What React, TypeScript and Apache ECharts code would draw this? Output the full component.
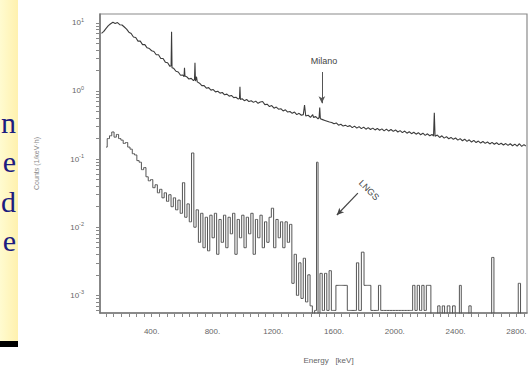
import React, { useEffect, useRef } from 'react';
import * as echarts from 'echarts';

// ---- data ----
const xLabelValues = [400, 800, 1200, 1600, 2000, 2400, 2800];
const yLabelValues = [0.001, 0.01, 0.1, 1, 10];
const yMinorMultipliers = [2, 3, 4, 5, 6, 7, 8, 9];
const sideText = ['n', 'e', 'd', 'e'];

// Milano spectrum [energy keV, counts]
const milano: [number, number][] = [
  [70, 7.0], [85, 7.5], [100, 8.3], [115, 9.1], [130, 9.7], [145, 10.2], [160, 9.8], [175, 10.1],
  [190, 9.4], [205, 9.3], [220, 8.7], [235, 8.1], [250, 7.3], [265, 7.0], [280, 6.2], [295, 6.1],
  [310, 5.4], [325, 5.4], [340, 4.8], [355, 4.8], [370, 4.3], [385, 4.2], [400, 3.9], [415, 3.8],
  [430, 3.4], [445, 3.4], [460, 3.0], [475, 3.0], [490, 2.65], [505, 2.6], [520, 2.3], [528, 2.35],
  [531, 7.4], [534, 2.2], [545, 2.15], [560, 1.95], [575, 1.9], [590, 1.7], [605, 1.72], [613, 1.62],
  [616, 2.2], [619, 1.66], [630, 1.62], [645, 1.5], [660, 1.53], [675, 1.42], [682, 1.48], [685, 2.6],
  [688, 1.4], [695, 1.62], [700, 1.36], [715, 1.3], [730, 1.2], [745, 1.2], [760, 1.1], [775, 1.12],
  [790, 1.03], [805, 1.05], [820, 0.97], [835, 0.99], [850, 0.93], [865, 0.95], [880, 0.88], [895, 0.9],
  [910, 0.84], [925, 0.86], [940, 0.8], [955, 0.81], [970, 0.76], [978, 0.78], [981, 1.15], [984, 0.75],
  [995, 0.77], [1010, 0.72], [1025, 0.75], [1040, 0.7], [1055, 0.72], [1070, 0.68], [1085, 0.71],
  [1100, 0.66], [1115, 0.69], [1130, 0.7], [1145, 0.63], [1160, 0.64], [1175, 0.59], [1190, 0.61],
  [1205, 0.56], [1220, 0.58], [1235, 0.54], [1250, 0.55], [1265, 0.51], [1280, 0.53], [1295, 0.49],
  [1310, 0.5], [1325, 0.47], [1340, 0.49], [1355, 0.45], [1370, 0.47], [1385, 0.44], [1398, 0.45],
  [1406, 0.62], [1414, 0.43], [1430, 0.44], [1445, 0.41], [1460, 0.45], [1465, 0.41], [1480, 0.42],
  [1495, 0.39], [1502, 0.41], [1506, 0.57], [1510, 0.39], [1525, 0.38], [1540, 0.37], [1555, 0.36],
  [1570, 0.35], [1585, 0.345], [1600, 0.33], [1615, 0.34], [1630, 0.315], [1645, 0.325], [1660, 0.305],
  [1675, 0.315], [1690, 0.3], [1705, 0.31], [1720, 0.29], [1735, 0.305], [1750, 0.285], [1765, 0.3],
  [1780, 0.28], [1795, 0.295], [1810, 0.275], [1825, 0.29], [1840, 0.272], [1855, 0.285], [1870, 0.268],
  [1885, 0.282], [1900, 0.265], [1915, 0.278], [1930, 0.26], [1945, 0.275], [1960, 0.258], [1975, 0.272],
  [1990, 0.255], [2005, 0.268], [2020, 0.25], [2035, 0.262], [2050, 0.245], [2065, 0.258], [2080, 0.24],
  [2095, 0.252], [2110, 0.236], [2125, 0.248], [2140, 0.232], [2155, 0.244], [2170, 0.228], [2185, 0.24],
  [2200, 0.223], [2215, 0.235], [2230, 0.22], [2245, 0.23], [2255, 0.218], [2260, 0.48], [2265, 0.216],
  [2280, 0.225], [2295, 0.208], [2310, 0.22], [2325, 0.203], [2340, 0.214], [2355, 0.199], [2370, 0.208],
  [2385, 0.195], [2400, 0.204], [2415, 0.19], [2430, 0.2], [2445, 0.186], [2460, 0.196], [2475, 0.182],
  [2490, 0.192], [2505, 0.178], [2520, 0.188], [2535, 0.175], [2550, 0.184], [2565, 0.172], [2580, 0.181],
  [2595, 0.17], [2610, 0.178], [2625, 0.167], [2640, 0.176], [2655, 0.165], [2670, 0.174], [2685, 0.163],
  [2700, 0.171], [2715, 0.161], [2730, 0.169], [2745, 0.159], [2760, 0.168], [2775, 0.157], [2790, 0.166],
  [2805, 0.155], [2820, 0.168], [2835, 0.154], [2850, 0.163], [2862, 0.156],
];

// LNGS spectrum [energy keV, counts]; 0.0001 = empty bin (below the axis)
const lngs: [number, number][] = [
  [100, 0.15], [115, 0.2], [130, 0.22], [145, 0.25], [160, 0.21], [175, 0.23], [190, 0.2], [205, 0.19],
  [220, 0.17], [235, 0.175], [250, 0.15], [265, 0.14], [280, 0.12], [295, 0.115], [310, 0.095], [325, 0.09],
  [340, 0.07], [355, 0.075], [370, 0.055], [385, 0.048], [400, 0.05], [415, 0.038], [430, 0.042], [445, 0.032],
  [460, 0.036], [475, 0.027], [490, 0.032], [505, 0.024], [520, 0.03], [535, 0.02], [550, 0.027], [565, 0.018],
  [580, 0.025], [595, 0.016], [610, 0.045], [625, 0.014], [640, 0.022], [655, 0.012], [670, 0.123], [685, 0.01],
  [700, 0.018], [715, 0.006], [730, 0.016], [745, 0.005], [760, 0.014], [775, 0.0045], [790, 0.015], [805, 0.007],
  [820, 0.016], [835, 0.004], [850, 0.013], [865, 0.006], [880, 0.015], [895, 0.005], [910, 0.014], [925, 0.008],
  [940, 0.016], [955, 0.004], [970, 0.013], [985, 0.007], [1000, 0.015], [1015, 0.005], [1030, 0.014],
  [1045, 0.008], [1060, 0.016], [1075, 0.004], [1090, 0.013], [1105, 0.007], [1120, 0.015], [1135, 0.005],
  [1150, 0.012], [1165, 0.006], [1180, 0.014], [1195, 0.019], [1210, 0.005], [1225, 0.013], [1240, 0.007],
  [1255, 0.012], [1270, 0.005], [1285, 0.012], [1300, 0.006], [1315, 0.011], [1330, 0.0015], [1345, 0.004],
  [1360, 0.001], [1375, 0.003], [1390, 0.0009], [1405, 0.0035], [1420, 0.0008], [1435, 0.002], [1450, 0.0007],
  [1465, 0.0001], [1480, 0.0006], [1490, 0.09], [1500, 0.0001], [1515, 0.0021], [1530, 0.0006], [1545, 0.0021],
  [1560, 0.0006], [1575, 0.0023], [1590, 0.0006], [1605, 0.0006], [1620, 0.0014], [1635, 0.0014], [1650, 0.0014],
  [1665, 0.0014], [1680, 0.0014], [1695, 0.0006], [1710, 0.0006], [1725, 0.0006], [1740, 0.0006], [1755, 0.003],
  [1770, 0.0006], [1790, 0.0043], [1805, 0.0014], [1820, 0.0014], [1835, 0.0014], [1850, 0.0006], [1870, 0.0006],
  [1885, 0.0006], [1900, 0.0014], [1915, 0.0006], [1935, 0.0006], [1955, 0.0006], [1975, 0.0006], [1995, 0.0006],
  [2015, 0.0006], [2035, 0.0006], [2055, 0.0006], [2075, 0.0006], [2095, 0.0006], [2110, 0.0006], [2125, 0.0014],
  [2140, 0.0006], [2155, 0.0014], [2170, 0.0006], [2185, 0.0014], [2200, 0.0006], [2215, 0.0014], [2230, 0.0014],
  [2245, 0.0001], [2275, 0.0001], [2290, 0.0007], [2305, 0.0001], [2320, 0.0007], [2335, 0.0001], [2355, 0.0007],
  [2370, 0.0001], [2390, 0.0007], [2405, 0.0001], [2420, 0.0001], [2430, 0.0014], [2445, 0.0001], [2480, 0.0001],
  [2495, 0.0007], [2510, 0.0001], [2630, 0.0001], [2645, 0.0036], [2660, 0.0001], [2805, 0.0001], [2820, 0.0015],
  [2835, 0.0001], [2870, 0.0001],
];

export default function App() {
  const ref = useRef<HTMLDivElement>(null);
  useEffect(() => {
    document.body.style.margin = '0';
    if (!ref.current) return;
    const chart = echarts.init(ref.current, undefined, { renderer: 'svg' });

    const xTicks: number[] = [];
    for (let v = 100; v <= 2850; v += 50) xTicks.push(v);
    const yTicks: number[] = [];
    yLabelValues.forEach((d) => {
      yTicks.push(d);
      yMinorMultipliers.forEach((m) => {
        const t = d * m;
        if (t <= 13.5) yTicks.push(t);
      });
    });
    yTicks.unshift(0.0006, 0.0007, 0.0008, 0.0009);

    const axisFont = 'Liberation Sans';

    chart.setOption({
      animation: false,
      backgroundColor: '#ffffff',
      grid: {
        left: 100, right: 5, top: 14, bottom: 66,
        show: true, borderColor: '#8a8a8a', borderWidth: 1.2,
      },
      xAxis: {
        type: 'value', min: 60, max: 2870,
        name: 'Energy   [keV]', nameLocation: 'middle', nameGap: 43,
        nameTextStyle: { fontSize: 8, color: '#666', fontFamily: axisFont, padding: [0, 0, 0, 30] },
        axisLine: { show: true, lineStyle: { color: '#777', width: 1.5 } },
        axisTick: { show: true, length: 4, customValues: xTicks, lineStyle: { color: '#888', width: 1 } },
        axisLabel: {
          customValues: xLabelValues, margin: 14, fontSize: 8, color: '#666', fontFamily: axisFont,
          formatter: (v: number) => v + '.',
        },
        splitLine: { show: false },
      },
      yAxis: {
        type: 'log', logBase: 10, min: 0.00055, max: 13.5,
        name: 'Counts (1/keV·h)', nameLocation: 'middle', nameGap: 60,
        nameTextStyle: { fontSize: 7, color: '#888', fontFamily: axisFont, padding: [0, 0, 0, 0] },
        axisLine: { show: true, lineStyle: { color: '#777', width: 1.5 } },
        axisTick: { show: true, length: 4, customValues: yTicks, lineStyle: { color: '#888', width: 1 } },
        axisLabel: {
          customValues: yLabelValues, margin: 16, color: '#666', fontFamily: axisFont,
          formatter: (v: number) => `{b|10}{s|${Math.round(Math.log10(v))}}`,
          rich: {
            b: { fontSize: 8, color: '#666', fontFamily: axisFont },
            s: { fontSize: 5.5, color: '#666', fontFamily: axisFont, padding: [0, 0, 6, 0] },
          },
        },
        splitLine: { show: false },
        minorSplitLine: { show: false },
      },
      series: [
        {
          name: 'Milano', type: 'line', data: milano, showSymbol: false, silent: true,
          lineStyle: { color: '#3c3c3c', width: 1.1 },
          markLine: {
            silent: true, symbol: ['none', 'arrow'], symbolSize: [5, 7],
            lineStyle: { color: '#555', width: 1, type: 'solid' }, label: { show: false },
            data: [[{ coord: [1520, 1.9] }, { coord: [1520, 0.66] }]],
          },
          markPoint: {
            silent: true, symbol: 'rect', symbolSize: 1, itemStyle: { color: 'rgba(0,0,0,0)' },
            label: { show: true, position: 'inside', formatter: 'Milano', fontSize: 9, color: '#444', fontFamily: axisFont },
            data: [{ coord: [1534, 2.76] }],
          },
        },
        {
          name: 'LNGS', type: 'line', step: 'middle', data: lngs, showSymbol: false, silent: true,
          lineStyle: { color: '#555', width: 1 },
          markLine: {
            silent: true, symbol: ['none', 'arrow'], symbolSize: [5, 7],
            lineStyle: { color: '#444', width: 1.2, type: 'solid' }, label: { show: false },
            data: [[{ coord: [1757, 0.0316] }, { coord: [1619, 0.0151] }]],
          },
          markPoint: {
            silent: true, symbol: 'rect', symbolSize: 1, itemStyle: { color: 'rgba(0,0,0,0)' },
            label: { show: true, position: 'inside', formatter: 'LNGS', rotate: -45, fontSize: 9, color: '#444', fontFamily: axisFont },
            data: [{ coord: [1830, 0.035] }],
          },
        },
      ],
      graphic: [
        {
          type: 'rect', shape: { x: 0, y: 0, width: 18, height: 341 }, silent: true,
          style: {
            fill: new echarts.graphic.LinearGradient(0, 0, 1, 0, [
              { offset: 0, color: '#fffbd0' },
              { offset: 1, color: '#fff1ae' },
            ]),
          },
        },
        { type: 'rect', shape: { x: 0, y: 341, width: 18, height: 6 }, silent: true, style: { fill: '#000' } },
        ...sideText.map((t, i) => ({
          type: 'text', silent: true, x: 16, y: 122 + i * 39.5,
          style: {
            text: t, fill: '#1c1c80', font: '30px "Liberation Serif"',
            align: 'right', verticalAlign: 'middle',
          },
        })),
      ],
    });
    return () => chart.dispose();
  }, []);
  return <div ref={ref} style={{ width: 532, height: 379 }} />;
}
